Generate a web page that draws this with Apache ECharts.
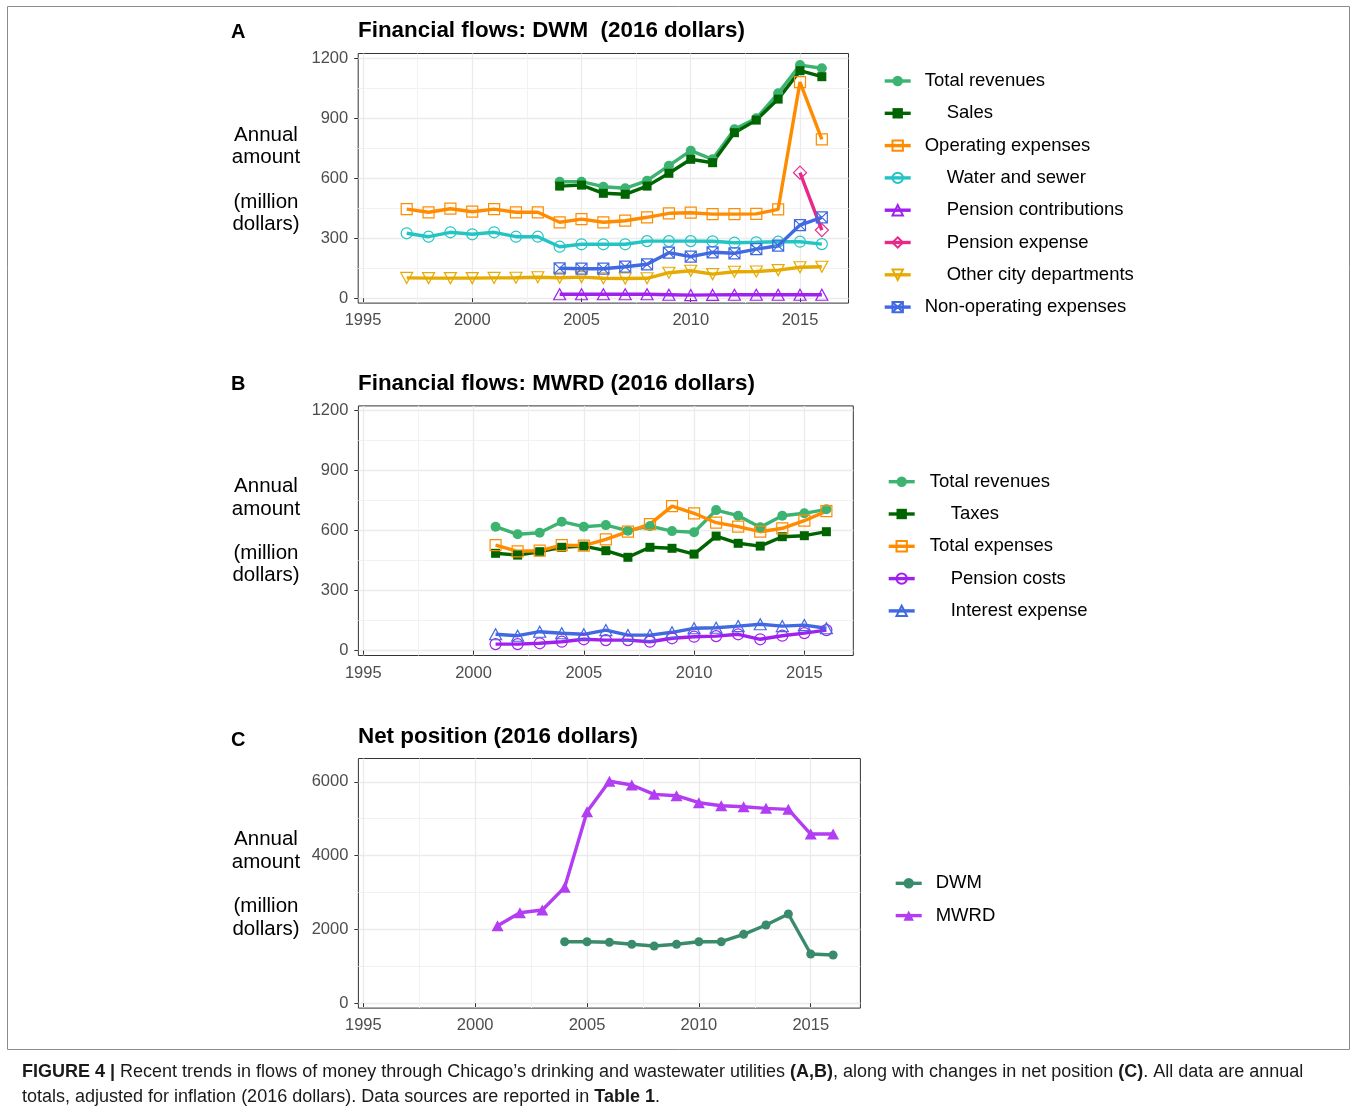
<!DOCTYPE html>
<html>
<head>
<meta charset="utf-8">
<script src="https://cdn.jsdelivr.net/npm/echarts@6/dist/echarts.min.js"></script>
<style>
  html, body { margin: 0; padding: 0; background: #fff; }
  #chart { width: 1357px; height: 1116px; }
</style>
</head>
<body>
<div id="chart"></div>
<script>
// tick values
const yearTicks = [1995, 2000, 2005, 2010, 2015]
const yearMinor = [1997.5, 2002.5, 2007.5, 2012.5]
const flowTicks = [0, 300, 600, 900, 1200]
const flowMinor = [150, 450, 750, 1050]
const netTicks = [0, 2000, 4000, 6000]
const netMinor = [1000, 3000, 5000]

// years
const dwmLongYears = [1997, 1998, 1999, 2000, 2001, 2002, 2003, 2004, 2005, 2006, 2007, 2008, 2009, 2010, 2011, 2012, 2013, 2014, 2015, 2016]
const dwmYears = [2004, 2005, 2006, 2007, 2008, 2009, 2010, 2011, 2012, 2013, 2014, 2015, 2016]
const pensionExpYears = [2015, 2016]
const mwrdYears = [2001, 2002, 2003, 2004, 2005, 2006, 2007, 2008, 2009, 2010, 2011, 2012, 2013, 2014, 2015, 2016]

// A: DWM flows (million 2016 dollars)
const dwmTotalRevenues = [583, 583, 558, 550, 588, 663, 738, 695, 845, 900, 1025, 1166, 1150]
const dwmSales = [561, 566, 525, 520, 561, 625, 695, 678, 828, 891, 996, 1138, 1108]
const dwmOperating = [446, 430, 448, 433, 446, 430, 430, 380, 396, 380, 388, 405, 425, 428, 421, 421, 422, 445, 1081, 795]
const dwmWaterSewer = [325, 308, 330, 320, 330, 308, 308, 258, 270, 270, 270, 286, 286, 286, 285, 278, 280, 283, 283, 271]
const dwmPensionContrib = [20, 20, 20, 20, 20, 18, 16, 17, 18, 18, 18, 18, 18]
const dwmPensionExpense = [628, 341]
const dwmOtherCity = [102, 101, 101, 101, 102, 103, 105, 103, 106, 100, 99, 100, 128, 138, 121, 133, 134, 141, 155, 158]
const dwmNonOperating = [150, 148, 148, 158, 170, 228, 208, 230, 225, 246, 263, 366, 405]

// B: MWRD flows
const mwrdTotalRevenues = [620, 582, 590, 645, 620, 628, 600, 623, 598, 592, 703, 675, 617, 675, 687, 707]
const mwrdTaxes = [487, 478, 495, 517, 523, 500, 467, 517, 512, 483, 573, 537, 523, 570, 575, 595]
const mwrdTotalExpenses = [528, 497, 500, 528, 525, 557, 595, 633, 723, 687, 640, 620, 595, 612, 650, 698]
const mwrdPensionCosts = [33, 33, 37, 45, 57, 53, 53, 45, 62, 70, 73, 82, 57, 75, 88, 103]
const mwrdInterest = [82, 75, 95, 87, 82, 103, 78, 78, 92, 112, 115, 123, 132, 123, 128, 112]

// C: net position
const netDWM = [1668, 1668, 1652, 1598, 1552, 1598, 1668, 1668, 1868, 2120, 2418, 1335, 1308]
const netMWRD = [2101, 2453, 2526, 3141, 5189, 6015, 5911, 5659, 5622, 5432, 5351, 5324, 5280, 5253, 4584, 4584]

const FONT = 'Liberation Sans, Arial, Helvetica, sans-serif'
const TRI_DOWN = 'path://M0,0L10,0L5,8.66Z'
const BOX_X = 'path://M0,0L10,0L10,10L0,10Z M0,0L10,10 M10,0L0,10'

const panels = [
  { left: 358.2, top: 53.5, width: 490.3, height: 249.6, yMin: -24, yMax: 1224, ticks: flowTicks, minor: flowMinor },
  { left: 358.4, top: 405.9, width: 494.9, height: 249.6, yMin: -24, yMax: 1224, ticks: flowTicks, minor: flowMinor },
  { left: 358.4, top: 758.5, width: 502.0, height: 249.6, yMin: -130, yMax: 6630, ticks: netTicks, minor: netMinor }
]

const plain = v => String(v)

const grids = []
const xAxes = []
const yAxes = []
panels.forEach((p, i) => {
  grids.push({ left: p.left, top: p.top, width: p.width, height: p.height, show: true, borderColor: '#333', borderWidth: 1, backgroundColor: 'transparent', containLabel: false })
  // major x (index 2*i), minor x (2*i+1)
  xAxes.push({
    gridIndex: i, type: 'value', min: 1994.78, max: 2017.22,
    axisLine: { show: false },
    axisTick: { show: true, length: 4, inside: false, customValues: yearTicks, lineStyle: { color: '#333', width: 1 } },
    axisLabel: { customValues: yearTicks, formatter: plain, color: '#4D4D4D', fontSize: 16.5, fontFamily: FONT, margin: 9 },
    splitLine: { show: true, lineStyle: { color: '#EBEBEB', width: 1.3 } }
  })
  xAxes.push({
    gridIndex: i, type: 'value', min: 1994.78, max: 2017.22,
    axisLine: { show: false },
    axisTick: { show: false, customValues: yearMinor },
    axisLabel: { show: false, customValues: yearMinor },
    splitLine: { show: true, lineStyle: { color: '#F2F2F2', width: 1 } }
  })
  yAxes.push({
    gridIndex: i, type: 'value', min: p.yMin, max: p.yMax,
    axisLine: { show: false },
    axisTick: { show: true, length: 4, inside: false, customValues: p.ticks, lineStyle: { color: '#333', width: 1 } },
    axisLabel: { customValues: p.ticks, formatter: plain, color: '#4D4D4D', fontSize: 16.5, fontFamily: FONT, margin: 10 },
    splitLine: { show: true, lineStyle: { color: '#EBEBEB', width: 1.3 } }
  })
  yAxes.push({
    gridIndex: i, type: 'value', min: p.yMin, max: p.yMax,
    axisLine: { show: false },
    axisTick: { show: false, customValues: p.minor },
    axisLabel: { show: false, customValues: p.minor },
    splitLine: { show: true, lineStyle: { color: '#F2F2F2', width: 1 } }
  })
})

function pairs(years, vals) {
  return years.map((y, i) => [y, vals[i]])
}

function line(name, panel, years, vals, color, symbol, size, hollow) {
  return {
    name: name,
    type: 'line',
    xAxisIndex: panel * 2,
    yAxisIndex: panel * 2,
    data: pairs(years, vals),
    symbol: symbol,
    symbolSize: size,
    showSymbol: true,
    color: color,
    lineStyle: { color: color, width: 3.4 },
    itemStyle: hollow
      ? { color: 'rgba(255,255,255,0)', borderColor: color, borderWidth: 1.2 }
      : { color: color, borderWidth: 0 },
    emphasis: { disabled: true },
    animation: false
  }
}

const series = [
  line('Total revenues', 0, dwmYears, dwmTotalRevenues, '#3CB371', 'circle', 10, false),
  line('Sales', 0, dwmYears, dwmSales, '#006400', 'rect', 9, false),
  line('Operating expenses', 0, dwmLongYears, dwmOperating, '#FF8C00', 'rect', 11, true),
  line('Water and sewer', 0, dwmLongYears, dwmWaterSewer, '#22C4C4', 'circle', 11, true),
  line('Pension contributions', 0, dwmYears, dwmPensionContrib, '#A020F0', 'triangle', [12, 11], true),
  line('Pension expense', 0, pensionExpYears, dwmPensionExpense, '#E7298A', 'diamond', [13, 13], true),
  line('Other city departments', 0, dwmLongYears, dwmOtherCity, '#E6AB02', TRI_DOWN, [12, 11], true),
  line('Non-operating expenses', 0, dwmYears, dwmNonOperating, '#4169E1', BOX_X, 11, true),

  line('Total revenues', 1, mwrdYears, mwrdTotalRevenues, '#3CB371', 'circle', 10, false),
  line('Taxes', 1, mwrdYears, mwrdTaxes, '#006400', 'rect', 9, false),
  line('Total expenses', 1, mwrdYears, mwrdTotalExpenses, '#FF8C00', 'rect', 11, true),
  line('Pension costs', 1, mwrdYears, mwrdPensionCosts, '#A020F0', 'circle', 11, true),
  line('Interest expense', 1, mwrdYears, mwrdInterest, '#4169E1', 'triangle', [12, 11], true),

  line('DWM', 2, dwmYears, netDWM, '#3A8A6C', 'circle', 9, false),
  line('MWRD', 2, mwrdYears, netMWRD, '#B23DF2', 'triangle', [12, 11], false)
]

const indented = ['Sales', 'Water and sewer', 'Pension contributions', 'Pension expense', 'Other city departments', 'Taxes', 'Pension costs', 'Interest expense']

function makeLegend(names, left, top, padMain, padSub) {
  const tok = { fontSize: 18.5, lineHeight: 20, color: '#000', fontFamily: FONT }
  return {
    orient: 'vertical',
    left: left,
    top: top,
    padding: 0,
    itemWidth: 26,
    itemHeight: 13,
    itemGap: 12.3,
    selectedMode: false,
    lineStyle: { width: 3.4 },
    data: names,
    formatter: name => (indented.indexOf(name) >= 0 ? '{b|' : '{a|') + name + '}',
    textStyle: {
      fontSize: 18.5, lineHeight: 20, color: '#000', fontFamily: FONT,
      rich: {
        a: Object.assign({ padding: [0, 0, 0, padMain] }, tok),
        b: Object.assign({ padding: [0, 0, 0, padSub] }, tok)
      }
    }
  }
}

const legends = [
  makeLegend(['Total revenues', 'Sales', 'Operating expenses', 'Water and sewer', 'Pension contributions', 'Pension expense', 'Other city departments', 'Non-operating expenses'], 883, 71, 9, 31),
  makeLegend(['Total revenues', 'Taxes', 'Total expenses', 'Pension costs', 'Interest expense'], 887, 471.7, 10, 31),
  makeLegend(['DWM', 'MWRD'], 894, 873.3, 9, 9)
]

const titleStyle = { fontSize: 22.4, fontWeight: 'bold', color: '#000', fontFamily: FONT }
const letterStyle = { fontSize: 20, fontWeight: 'bold', color: '#000', fontFamily: FONT }
const titles = [
  { text: 'Financial flows: DWM  (2016 dollars)', left: 358, top: 20, padding: 0, textStyle: titleStyle },
  { text: 'Financial flows: MWRD (2016 dollars)', left: 358, top: 373, padding: 0, textStyle: titleStyle },
  { text: 'Net position (2016 dollars)', left: 358, top: 726, padding: 0, textStyle: titleStyle },
  { text: 'A', left: 231, top: 22, padding: 0, textStyle: letterStyle },
  { text: 'B', left: 231, top: 374, padding: 0, textStyle: letterStyle },
  { text: 'C', left: 231, top: 730, padding: 0, textStyle: letterStyle }
]

const sideLabel = 'Annual\namount\n\n(million\ndollars)'
const sideCenters = [179.6, 531.2, 884.3]
const graphics = sideCenters.map(cy => ({
  type: 'text', x: 266, y: cy,
  style: { text: sideLabel, fill: '#000', font: '20.5px ' + FONT, align: 'center', verticalAlign: 'middle', lineHeight: 22.3 }
}))

graphics.push({
  type: 'rect', shape: { x: 7.5, y: 6.5, width: 1342, height: 1043 },
  style: { fill: 'none', stroke: '#8C8C8C', lineWidth: 1 }, silent: true, z: -10
})

const capRich = {
  r: { fontSize: 18, fontFamily: FONT, fill: '#1a1a1a' },
  b: { fontSize: 18, fontFamily: FONT, fill: '#1a1a1a', fontWeight: 'bold' }
}
graphics.push({
  type: 'text', x: 22, y: 1072,
  style: {
    text: '{b|FIGURE 4 |}{r| Recent trends in flows of money through Chicago\u2019s drinking and wastewater utilities }{b|(A,B)}{r|, along with changes in net position }{b|(C)}{r|. All data are annual}',
    rich: capRich, verticalAlign: 'middle', align: 'left'
  }
})
graphics.push({
  type: 'text', x: 22, y: 1097,
  style: {
    text: '{r|totals, adjusted for inflation (2016 dollars). Data sources are reported in }{b|Table 1}{r|.}',
    rich: capRich, verticalAlign: 'middle', align: 'left'
  }
})

const chart = echarts.init(document.getElementById('chart'), null, { renderer: 'canvas' })
chart.setOption({
  animation: false,
  backgroundColor: '#fff',
  title: titles,
  legend: legends,
  grid: grids,
  xAxis: xAxes,
  yAxis: yAxes,
  series: series,
  graphic: graphics
})
</script>
</body>
</html>
